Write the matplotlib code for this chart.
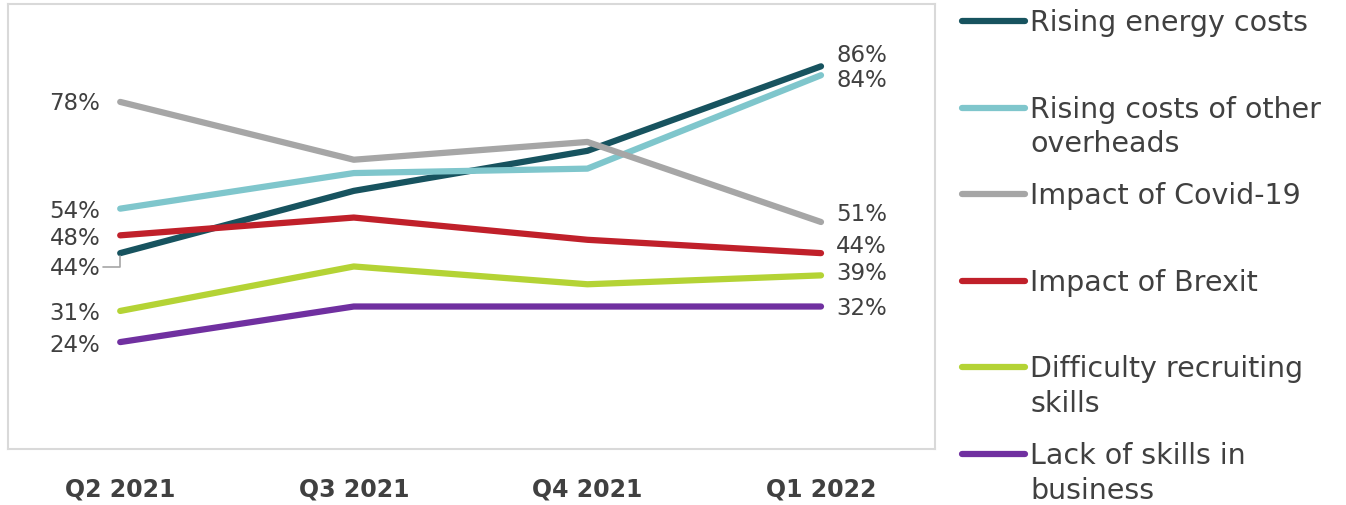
import matplotlib.pyplot as plt
from matplotlib.lines import Line2D

quarters = ['Q2 2021', 'Q3 2021', 'Q4 2021', 'Q1 2022']

series = ['Rising energy costs', 'Rising costs of other\noverheads', 'Impact of Covid-19',
          'Impact of Brexit', 'Difficulty recruiting\nskills', 'Lack of skills in\nbusiness']

energy = [44, 58, 67, 86]
overheads = [54, 62, 63, 84]
covid = [78, 65, 69, 51]
brexit = [48, 52, 47, 44]
recruiting = [31, 41, 37, 39]
lack_skills = [24, 32, 32, 32]

values = [energy, overheads, covid, brexit, recruiting, lack_skills]
colors = ['#17535f', '#7fc6cc', '#a6a6a6', '#c0202a', '#b4d335', '#7030a0']

# label nudges in pixels (first point, last point)
left_dy = [-14, -2, -1, -2, -2, -2]
right_dy = [12, -4, 8, 8, 3, -1]

text_col = '#404040'

fig = plt.figure(figsize=(13.46, 5.06), dpi=100)
ax = fig.add_axes([0.006, 0.111, 0.689, 0.879])

x = range(len(quarters))
for i, v in enumerate(values):
    ax.plot(x, v, color=colors[i], lw=4.5, solid_capstyle='round', zorder=3)
    if i == 0:
        ax.annotate(f'{v[0]}%', xy=(0, v[0]), xytext=(-20, left_dy[i]), textcoords='offset pixels',
                    ha='right', va='center', fontsize=16.5, color=text_col,
                    arrowprops=dict(arrowstyle='-', color='#a6a6a6', lw=1.2,
                                    connectionstyle='angle,angleA=0,angleB=90,rad=0',
                                    shrinkA=0, shrinkB=2))
    else:
        ax.annotate(f'{v[0]}%', xy=(0, v[0]), xytext=(-20, left_dy[i]), textcoords='offset pixels',
                    ha='right', va='center', fontsize=16.5, color=text_col)
    ax.annotate(f'{v[-1]}%', xy=(3, v[-1]), xytext=(15, right_dy[i]), textcoords='offset pixels',
                ha='left', va='center', fontsize=16.5, color=text_col)

ax.set_xlim(-0.48, 3.49)
ax.set_ylim(0, 100)
ax.set_xticks(list(x))
ax.set_xticklabels(quarters, fontsize=17, fontweight='bold', color=text_col)
ax.set_yticks([])
ax.tick_params(axis='x', length=0, pad=20)
for s in ax.spines.values():
    s.set_color('#d9d9d9')
    s.set_linewidth(1.5)

# legend drawn at the right
for i, name in enumerate(series):
    yy = 1 - (22 + i * 86.6) / 506
    fig.add_artist(Line2D([962 / 1346, 1025 / 1346], [yy, yy], color=colors[i], lw=4.5,
                          solid_capstyle='round', transform=fig.transFigure))
    fig.text(1030 / 1346, yy + 13 / 506, name, ha='left', va='top', fontsize=20.5,
             color=text_col, linespacing=1.3)

fig.savefig('out.png', dpi=100)
